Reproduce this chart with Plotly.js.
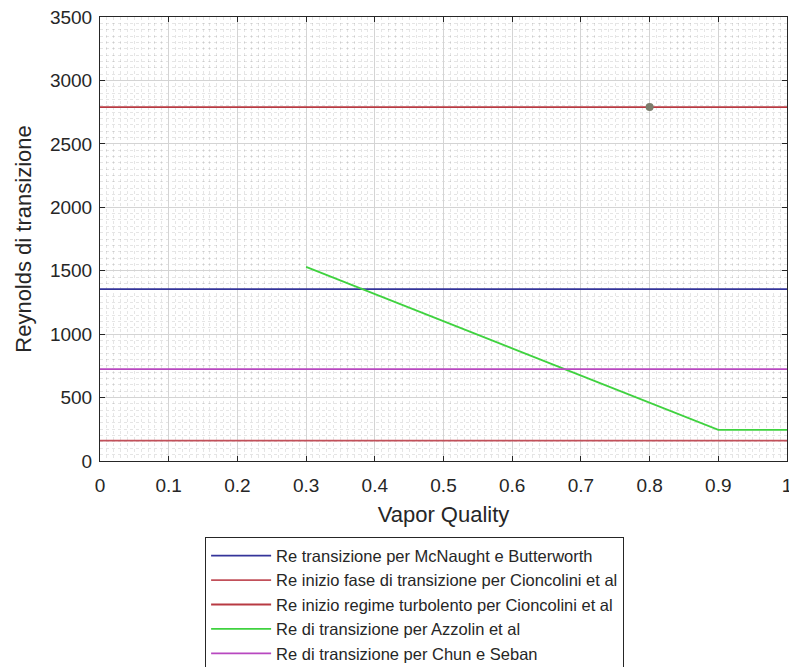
<!DOCTYPE html>
<html>
<head>
<meta charset="utf-8">
<script src="https://cdn.plot.ly/plotly-3.0.1.min.js"></script>
<style>html,body{margin:0;padding:0;background:#fff;overflow:hidden;}#chart{width:789px;height:667px;}</style>
</head>
<body>
<div id="chart"></div>
<script>
// Data
const xRange = [0, 1];
const reMcNaught = 1355;            // Re transizione per McNaught e Butterworth
const reCioncoliniStart = 160;      // Re inizio fase di transizione per Cioncolini et al
const reCioncoliniTurb = 2790;      // Re inizio regime turbolento per Cioncolini et al
const azzolinX = [0.3, 0.4, 0.5, 0.6, 0.7, 0.8, 0.9, 1.0];
const azzolinRe = [1530, 1315, 1100, 885, 672, 455, 245, 245];
const reChunSeban = 725;            // Re di transizione per Chun e Seban
const pointX = [0.8];
const pointY = [2790];
const names = [
  "Re transizione per McNaught e Butterworth",
  "Re inizio fase di transizione per Cioncolini et al",
  "Re inizio regime turbolento per Cioncolini et al",
  "Re di transizione per Azzolin et al",
  "Re di transizione per Chun e Seban"
];
const xTicks = [0, 0.1, 0.2, 0.3, 0.4, 0.5, 0.6, 0.7, 0.8, 0.9, 1];
const xTickText = ["0", "0.1", "0.2", "0.3", "0.4", "0.5", "0.6", "0.7", "0.8", "0.9", "1"];
const yTicks = [0, 500, 1000, 1500, 2000, 2500, 3000, 3500];

const font = "Liberation Sans, Arial, Helvetica, sans-serif";
const txt = "#262626";

const traces = [
  {x: xRange, y: [reMcNaught, reMcNaught], name: names[0], mode: "lines",
   line: {color: "#34349a", width: 1.8}},
  {x: xRange, y: [reCioncoliniStart, reCioncoliniStart], name: names[1], mode: "lines",
   line: {color: "#c2505a", width: 1.8}},
  {x: xRange, y: [reCioncoliniTurb, reCioncoliniTurb], name: names[2], mode: "lines",
   line: {color: "#b83a42", width: 1.8}},
  {x: azzolinX, y: azzolinRe, name: names[3], mode: "lines",
   line: {color: "#3fd23f", width: 1.8}},
  {x: xRange, y: [reChunSeban, reChunSeban], name: names[4], mode: "lines",
   line: {color: "#b848c0", width: 1.8}},
  {x: pointX, y: pointY, mode: "markers", showlegend: false,
   marker: {color: "#7b7d6c", size: 8}}
];

const axisCommon = {
  showline: true, mirror: "ticks", linecolor: txt, linewidth: 1,
  ticks: "inside", ticklen: 5, tickcolor: txt,
  showgrid: true, gridcolor: "#d4d4d4", gridwidth: 1,
  zeroline: false, ticklabeloverflow: "allow", automargin: false,
  tickfont: {family: font, size: 19, color: txt}
};

const layout = {
  width: 789, height: 667,
  margin: {l: 100, r: 2, t: 17, b: 206, autoexpand: false},
  paper_bgcolor: "#ffffff", plot_bgcolor: "#ffffff",
  font: {family: font, color: txt},
  showlegend: true,
  xaxis: Object.assign({}, axisCommon, {
    range: [0, 1], tickvals: xTicks, ticktext: xTickText,
    ticklabelstandoff: 7,
    minor: {dtick: 0.01, showgrid: true, griddash: "dot", gridcolor: "rgba(0,0,0,0.10)", gridwidth: 1, ticks: ""},
    title: {text: "Vapor Quality", font: {family: font, size: 22, color: txt}, standoff: 11}
  }),
  yaxis: Object.assign({}, axisCommon, {
    range: [0, 3500], tickvals: yTicks,
    ticklabelstandoff: 3,
    minor: {dtick: 50, showgrid: true, griddash: "dot", gridcolor: "rgba(0,0,0,0.10)", gridwidth: 1, ticks: ""},
    title: {text: "Reynolds di transizione", font: {family: font, size: 22, color: txt}, standoff: 12}
  }),
  legend: {
    x: 0.153, xanchor: "left", y: -0.172, yanchor: "top",
    bgcolor: "#ffffff", bordercolor: txt, borderwidth: 1,
    font: {family: font, size: 16.5, color: txt},
    itemwidth: 60, tracegroupgap: 0
  }
};

Plotly.newPlot("chart", traces, layout, {displayModeBar: false, staticPlot: true});
</script>
</body>
</html>
